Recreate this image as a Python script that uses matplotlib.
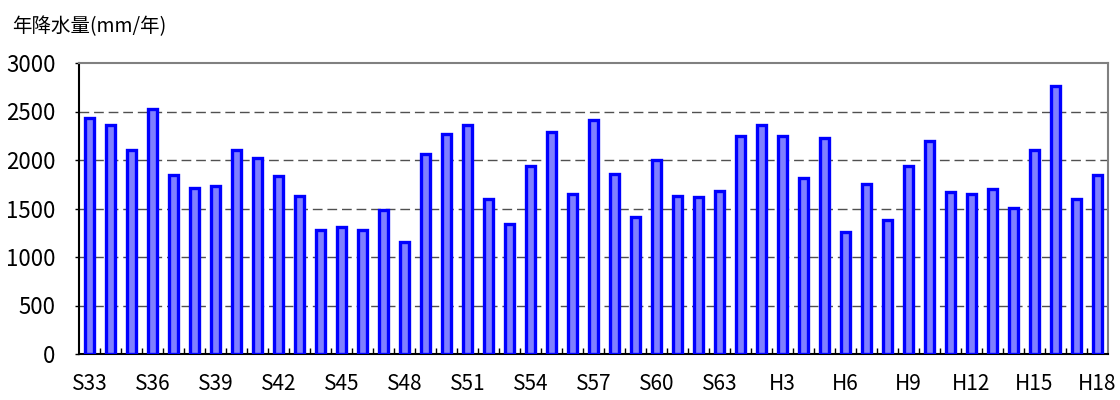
import matplotlib
matplotlib.use("Agg")
import matplotlib.pyplot as plt
import numpy as np

## Annual rainfall, S33 (1958) to H18 (2006)
years = (["S%d" % y for y in range(33, 64)] + ["H1"] +
         ["H%d" % y for y in range(2, 19)])
rain = [2430, 2360, 2100, 2525, 1850, 1715, 1735, 2100, 2025, 1830,
        1630, 1275, 1305, 1275, 1487, 1150, 2060, 2270, 2360, 1595,
        1345, 1935, 2285, 1650, 2415, 1860, 1415, 2005, 1630, 1615,
        1685, 2250, 2360, 2245, 1815, 2230, 1258, 1757, 1383, 1935,
        2195, 1665, 1650, 1700, 1505, 2100, 2760, 1595, 1845]
label_every = 3
ylabel_text = "年降水量(mm/年)"

plt.rcParams['font.family'] = ['Noto Sans CJK JP', 'DejaVu Sans']

fig = plt.figure(figsize=(11.2, 4.0), dpi=100)
ax = fig.add_axes([79/1120, 46/400, 1029/1120, 291/400])

x = np.arange(len(years))
ax.bar(x, rain, width=0.42, color='#8080ff', edgecolor='#0000ff',
       linewidth=2.4, zorder=3)

ax.set_xlim(-0.5, len(years) - 0.5)
ax.set_ylim(0, 3000)
ax.set_yticks(np.arange(0, 3001, 500))

## dashed grid lines
for v in range(500, 3000, 500):
    ax.axhline(v, color='#505050', linewidth=1.0, dashes=(7, 3.5), zorder=1)

## labels every 3 years, small ticks between bars
ax.set_xticks(x[::label_every])
ax.set_xticklabels(years[::label_every])
ax.set_xticks(x[:-1] + 0.5, minor=True)
ax.tick_params(axis='x', which='major', length=0, pad=14, labelsize=15)
ax.tick_params(axis='x', which='minor', direction='in', length=4,
               width=1, color='black')
ax.tick_params(axis='y', length=3, width=1, pad=14, labelsize=16)

for s in ['top', 'right']:
    ax.spines[s].set_color('#808080')
    ax.spines[s].set_linewidth(1.5)
for s in ['left', 'bottom']:
    ax.spines[s].set_color('black')
    ax.spines[s].set_linewidth(1.5)

fig.text(12/1120, 1 - 27/400, ylabel_text, fontsize=14, va='center')

plt.savefig("out.png", dpi=100)
plt.close()
